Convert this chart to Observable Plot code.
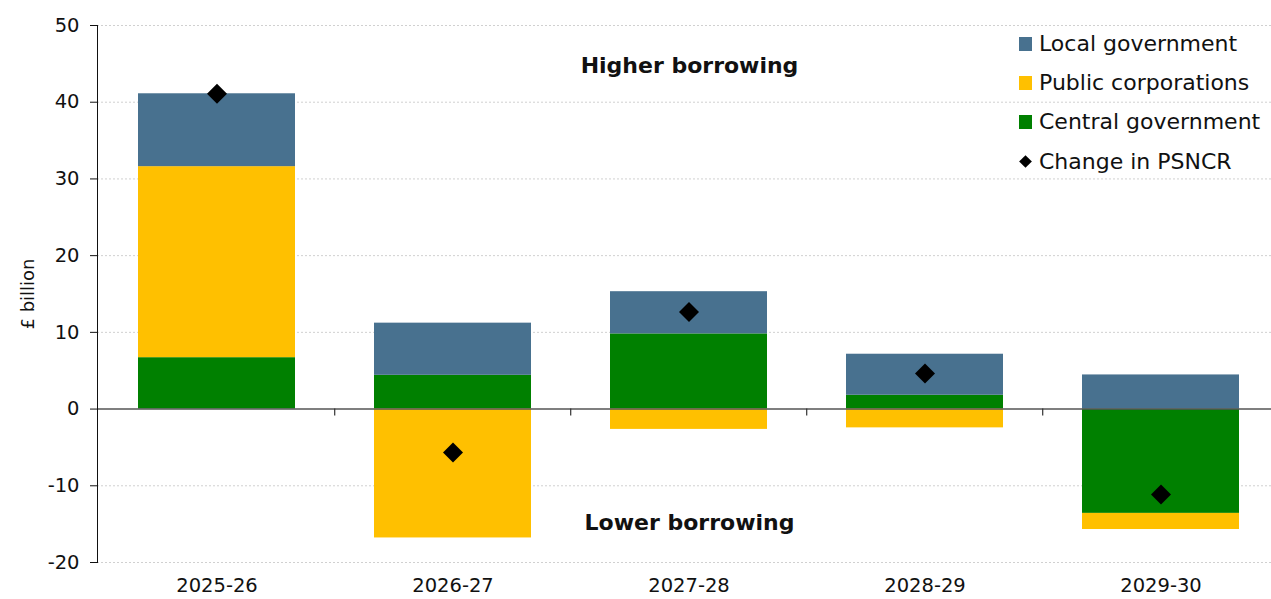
<!DOCTYPE html>
<html><head><meta charset="utf-8">
<script src="https://cdn.jsdelivr.net/npm/d3@7"></script>
<script src="https://cdn.jsdelivr.net/npm/@observablehq/plot@0.6"></script>
<style>
body{margin:0;overflow:hidden;background:#fff;}
#wrap{position:relative;width:1271px;height:599px;overflow:hidden;font-family:"DejaVu Sans",sans-serif;}
#wrap svg{position:absolute;left:0;top:0;max-width:none !important;}
.legend{position:absolute;left:1019px;top:24px;font-size:22px;color:#111;line-height:1;}
.legend .row{height:39.4px;display:flex;align-items:center;}
.legend .sw{width:13px;height:14px;margin-right:7px;flex:none;}
.legend .dm{width:9px;height:9px;background:#000;transform:rotate(45deg);margin:0 9px 0 2px;flex:none;}
</style></head><body><div id="wrap"></div>
<script>
const years = ["2025-26","2026-27","2027-28","2028-29","2029-30"];
const seriesNames = ["Central government","Public corporations","Local government"];
const central = [6.7, 4.4, 9.8, 1.8, -13.6];
const publicCorps = [24.9, -16.8, -2.65, -2.45, -2.1];
const local = [9.5, 6.8, 5.5, 5.35, 4.45];
const psncr = [41.1, -5.65, 12.65, 4.65, -11.15];
const colors = ["#008000","#FFC000","#48718F"];
const yTicks = [-20,-10,0,10,20,30,40,50];
const legendOrder = ["Local government","Public corporations","Central government"];
const pointLabel = "Change in PSNCR";

const seriesValues = [central, publicCorps, local];
const rows = [];
seriesNames.forEach((s, i) => years.forEach((y, j) => rows.push({year: y, series: s, value: seriesValues[i][j]})));
const points = years.map((y, j) => ({year: y, value: psncr[j]}));

const padInner = 0.333;
const font = '"DejaVu Sans",sans-serif';

const boundaryTicks = (index, scales, values, dims) => {
  const x = scales.x, y = scales.y;
  const step = x.step ? x.step() : x.bandwidth() / (1 - padInner);
  const g = d3.create("svg:g").attr("stroke", "#333").attr("stroke-width", 1.2);
  for (const b of years.slice(1)) {
    const px = x(b) - step * padInner / 2;
    g.append("line").attr("x1", px).attr("x2", px).attr("y1", y(0)).attr("y2", y(0) + 7);
  }
  return g.node();
};

const chart = Plot.plot({
  width: 1281, height: 599,
  marginTop: 25, marginBottom: 37, marginLeft: 97, marginRight: 0,
  style: {fontFamily: font, color: "#111", background: "transparent", maxWidth: "none"},
  x: {domain: years, paddingInner: padInner, paddingOuter: padInner / 2, label: null},
  y: {domain: [-20, 50], label: null},
  color: {domain: seriesNames, range: colors},
  marks: [
    Plot.gridY(yTicks.filter(d => d !== 0), {stroke: "#d0d0d0", strokeOpacity: 1, strokeDasharray: "2,2"}),
    Plot.barY(rows, {x: "year", y: "value", fill: "series", order: seriesNames}),
    Plot.ruleY([0], {stroke: "#555", strokeWidth: 1.6}),
    boundaryTicks,
    Plot.frame({anchor: "left", stroke: "#111"}),
    Plot.axisY({ticks: yTicks, tickFormat: d => String(d), tickSize: 7, tickPadding: 11, fontSize: 19.5, label: null, stroke: "#111"}),
    Plot.axisX({tickSize: 0, tickPadding: 16, fontSize: 19.5, label: null}),
    Plot.dot(points, {x: "year", y: "value", symbol: "diamond2", r: 9, fill: "#000", stroke: null}),
    Plot.text(["Higher borrowing"], {frameAnchor: "top", lineAnchor: "middle", dy: 40, fontSize: 22, fontWeight: "bold", fill: "#111"}),
    Plot.text(["Lower borrowing"], {frameAnchor: "bottom", lineAnchor: "middle", dy: -40, fontSize: 22, fontWeight: "bold", fill: "#111"}),
    Plot.text(["£ billion"], {frameAnchor: "left", textAnchor: "middle", rotate: -90, dx: -69, fontSize: 18, fill: "#111"})
  ]
});

const wrap = document.getElementById("wrap");
wrap.appendChild(chart);
const legend = document.createElement("div");
legend.className = "legend";
for (const name of legendOrder) {
  const row = document.createElement("div");
  row.className = "row";
  const sw = document.createElement("span");
  sw.className = "sw";
  sw.style.background = colors[seriesNames.indexOf(name)];
  row.appendChild(sw);
  row.appendChild(document.createTextNode(name));
  legend.appendChild(row);
}
const prow = document.createElement("div");
prow.className = "row";
const dm = document.createElement("span");
dm.className = "dm";
prow.appendChild(dm);
prow.appendChild(document.createTextNode(pointLabel));
legend.appendChild(prow);
wrap.appendChild(legend);
</script>
</body></html>
